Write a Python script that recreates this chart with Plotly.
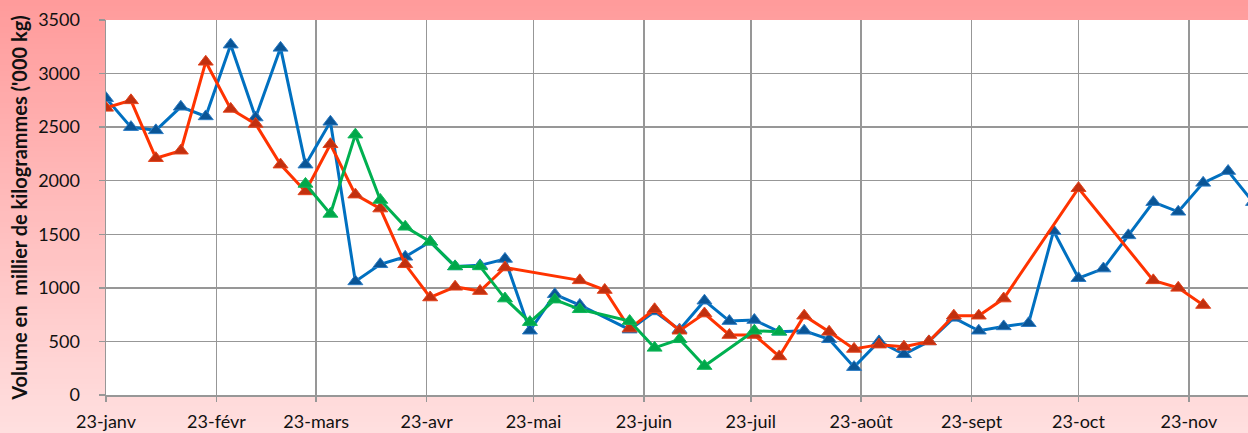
import plotly.graph_objects as go
import pandas as pd

# ---- data ----
start_date = "2023-01-01"
n_weeks = 47
dates = pd.date_range(start_date, periods=n_weeks, freq="7D")

blue = [2770, 2500, 2470, 2690, 2600, 3270, 2590, 3240, 2150, 2550,
        1060, 1220, 1290, 1430, 1200, 1210, 1270, 600, 940, 840,
        None, 610, 780, 610, 880, 690, 700, 590, 600, 520,
        260, 500, 380, 500, 720, 600, 640, 670, 1530, 1090,
        1180, 1490, 1800, 1710, 1980, 2090, 1800]

red = [2680, 2750, 2210, 2280, 3110, 2670, 2530, 2150, 1900, 2340,
       1870, 1740, 1220, 910, 1010, 970, 1190, None, None, 1070,
       980, 620, 800, 600, 760, 560, 560, 360, 740, 590,
       430, 470, 450, 500, 740, 740, 900, None, None, 1930,
       None, None, 1070, 1000, 840, None, None]

green = [None, None, None, None, None, None, None, None, 1970, 1690,
         2430, 1820, 1570, 1430, 1200, 1200, 900, 680, 890, 800,
         None, 690, 440, 520, 270, None, 600, 590, None, None,
         None, None, None, None, None, None, None, None, None, None,
         None, None, None, None, None, None, None]

tick_dates = ["2023-01-01", "2023-02-01", "2023-03-01", "2023-04-01", "2023-05-01",
              "2023-06-01", "2023-07-01", "2023-08-01", "2023-09-01", "2023-10-01",
              "2023-11-01"]
tick_labels = ["23-janv", "23-févr", "23-mars", "23-avr", "23-mai", "23-juin",
               "23-juil", "23-août", "23-sept", "23-oct", "23-nov"]

y_title = "Volume en  millier de kilogrammes ('000 kg)"

# ---- figure ----
W, H = 1248, 433
ML, MR, MT, MB = 106, 0, 20, 38
PW, PH = W - ML - MR, H - MT - MB
FONT = "Lato, Carlito, Calibri, sans-serif"

fig = go.Figure()

series = [
    (blue, "#0070C0", "#0A5596", "#2C7CC4"),
    (red, "#FF3300", "#C2300F", "#E2421C"),
    (green, "#00B050", "#00A84A", "#10B85A"),
]
for vals, lc, mc, mlc in series:
    fig.add_trace(go.Scatter(
        x=dates, y=vals, mode="lines+markers", connectgaps=True,
        line=dict(color=lc, width=3),
        marker=dict(symbol="triangle-up", size=13, color=mc,
                    line=dict(color=mlc, width=1)),
        showlegend=False, hoverinfo="skip", cliponaxis=True,
    ))

# background gradient in the margins (top darker to bottom lighter)
shapes = []
n_bands = 80
top_c = (255, 155, 155)
bot_c = (255, 223, 223)
y_top = 1 + MT / PH
y_bot = -MB / PH
x_left = -ML / PW
for i in range(n_bands):
    t = i / (n_bands - 1)
    r = round(top_c[0] + (bot_c[0] - top_c[0]) * t)
    g = round(top_c[1] + (bot_c[1] - top_c[1]) * t)
    b = round(top_c[2] + (bot_c[2] - top_c[2]) * t)
    y1 = y_top - (y_top - y_bot) * i / n_bands
    y0 = y_top - (y_top - y_bot) * (i + 1) / n_bands - 0.002
    shapes.append(dict(type="rect", xref="paper", yref="paper", x0=x_left - 0.01, x1=1.01,
                       y0=y0, y1=y1, fillcolor=f"rgb({r},{g},{b})",
                       line=dict(width=0), layer="below"))
shapes.append(dict(type="rect", xref="paper", yref="paper", x0=0, x1=1, y0=0, y1=1,
                   fillcolor="white", line=dict(width=0), layer="below"))

grid_c = "#979797"
fig.update_layout(
    width=W, height=H,
    margin=dict(l=ML, r=MR, t=MT, b=MB, autoexpand=False),
    paper_bgcolor="rgb(255,200,200)",
    plot_bgcolor="white",
    font=dict(family=FONT, size=18, color="#111111"),
    shapes=shapes,
    xaxis=dict(
        type="date",
        range=["2023-01-01", "2023-11-17 14:00"],
        tickvals=tick_dates, ticktext=tick_labels,
        showgrid=True, gridcolor=grid_c, gridwidth=1.5,
        showline=True, linecolor=grid_c, linewidth=1.5,
        ticks="outside", ticklen=5, tickcolor=grid_c, tickwidth=1.5,
        ticklabelstandoff=5,
        zeroline=False, fixedrange=True,
    ),
    yaxis=dict(
        range=[0, 3500], dtick=500, tick0=0,
        showgrid=True, gridcolor=grid_c, gridwidth=1.5,
        showline=True, linecolor=grid_c, linewidth=1.5,
        ticks="outside", ticklen=6, tickcolor=grid_c, tickwidth=1.5,
        ticklabelstandoff=15,
        zeroline=False, fixedrange=True,
        title=dict(text=y_title, standoff=5,
                   font=dict(family=FONT, size=20, color="#111111", weight="bold")),
    ),
)

fig.write_html("out.html", config={"displayModeBar": False, "staticPlot": True},
               post_script="document.body.style.margin='0';document.body.style.padding='0';")
